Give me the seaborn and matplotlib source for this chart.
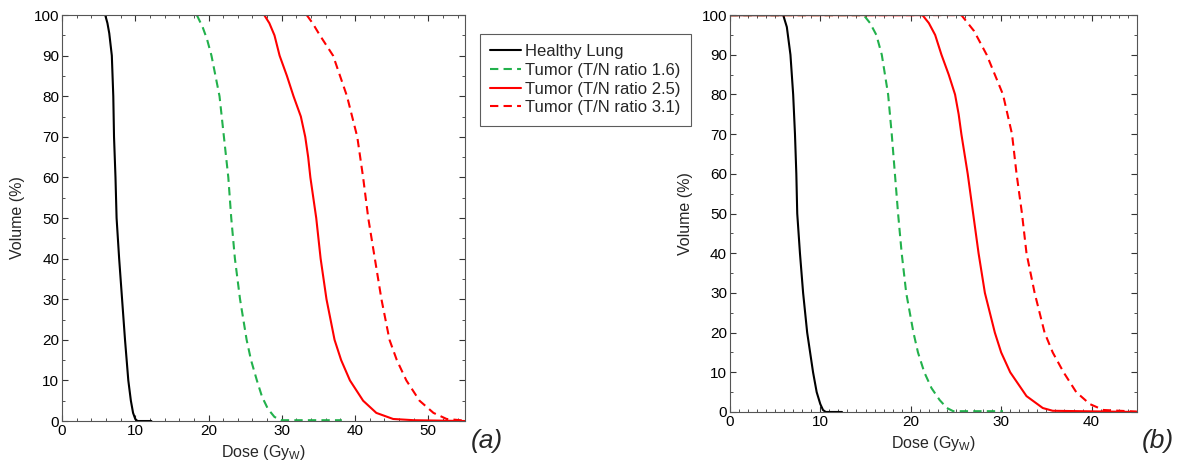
import matplotlib
matplotlib.use("Agg")
import matplotlib.pyplot as plt
from matplotlib.ticker import MultipleLocator
import pandas as pd
import seaborn as sns

# panel (a)
lung_a_x = [5.9, 6.2, 6.45, 6.8, 7.0, 7.1, 7.3, 7.45, 7.8, 8.2, 8.6, 9.05, 9.4, 9.7, 10.0, 10.3, 12.2]
lung_a_y = [100, 98, 95.5, 90, 80, 70, 60, 50, 40, 30, 20, 10, 5, 2, 0.5, 0, 0]
t16_a_x = [18.4, 19.2, 19.8, 20.4, 21.5, 22.1, 22.7, 23.1, 23.6, 24.3, 25.2, 25.8, 26.6, 27.3, 28.1, 29.0, 30.0, 38.2]
t16_a_y = [100, 97, 94, 90, 80, 70, 60, 50, 40, 30, 20, 15, 10, 6, 3, 1, 0.2, 0.2]
t25_a_x = [27.6, 28.3, 29.0, 29.7, 30.7, 31.6, 32.6, 33.2, 33.6, 33.9, 34.3, 34.7, 35.3, 36.1, 37.2, 38.1, 39.3,
           41.1, 42.9, 45.2, 48.0, 55.0]
t25_a_y = [100, 98, 95, 90, 85, 80, 75, 70, 65, 60, 55, 50, 40, 30, 20, 15, 10, 5, 2, 0.5, 0.2, 0]
t31_a_x = [33.4, 34.2, 35.2, 37.0, 38.9, 40.3, 41.1, 41.8, 42.7, 43.6, 44.7, 45.7, 47.0, 48.8, 50.7, 52.5, 55.0]
t31_a_y = [100, 98, 95, 90, 80, 70, 60, 50, 40, 30, 20, 15, 10, 5, 2, 0.5, 0.1]

# panel (b)
lung_b_x = [0, 5.9, 6.3, 6.7, 7.0, 7.2, 7.35, 7.45, 7.75, 8.1, 8.55, 9.2, 9.6, 10.0, 10.3, 10.6, 12.4]
lung_b_y = [100, 100, 97, 90, 80, 70, 60, 50, 40, 30, 20, 10, 5, 2, 0.5, 0, 0]
t16_b_x = [0, 14.8, 15.5, 16.2, 16.8, 17.5, 17.9, 18.25, 18.6, 19.0, 19.5, 20.3, 20.8, 21.5, 22.3, 23.2, 24.0,
           24.7, 30.2]
t16_b_y = [100, 100, 98, 95, 90, 80, 70, 60, 50, 40, 30, 20, 15, 10, 6, 3, 1, 0.2, 0.2]
t25_b_x = [0, 21.3, 22.0, 22.7, 23.4, 24.2, 24.9, 25.3, 25.6, 26.3, 26.9, 27.5, 28.2, 29.3, 30.0, 31.0, 32.8,
           34.6, 35.7, 45.0]
t25_b_y = [100, 100, 98, 95, 90, 85, 80, 75, 70, 60, 50, 40, 30, 20, 15, 10, 4, 1, 0.3, 0]
t31_b_x = [0, 25.6, 26.3, 27.0, 28.4, 30.2, 31.2, 31.7, 32.3, 32.8, 33.7, 34.8, 35.7, 36.9, 38.3, 39.8, 41.3, 45.0]
t31_b_y = [100, 100, 98, 96, 90, 80, 70, 60, 50, 40, 30, 20, 15, 10, 5, 2, 0.5, 0.1]

labels = ["Healthy Lung", "Tumor (T/N ratio 1.6)", "Tumor (T/N ratio 2.5)", "Tumor (T/N ratio 3.1)"]
colors = ["black", "#22b14c", "#ff0000", "#ff0000"]
styles = ["-", (0, (4, 2.5)), "-", (0, (4, 2.5))]

sns.set_style("white")
plt.rcParams['font.family'] = ['Liberation Sans', 'DejaVu Sans']
plt.rcParams['mathtext.default'] = 'regular'

fig = plt.figure(figsize=(11.81, 4.68), dpi=100)
ax1 = fig.add_axes([0.0525, 0.1004, 0.3412, 0.8675])
ax2 = fig.add_axes([0.618, 0.1197, 0.3446, 0.848])

panels = [
    (ax1, [(lung_a_x, lung_a_y), (t16_a_x, t16_a_y), (t25_a_x, t25_a_y), (t31_a_x, t31_a_y)], 55, 2),
    (ax2, [(lung_b_x, lung_b_y), (t16_b_x, t16_b_y), (t25_b_x, t25_b_y), (t31_b_x, t31_b_y)], 45, 1),
]

for ax, curves, xmax, xminor in panels:
    for (xs, ys), lab, col, ls in zip(curves, labels, colors, styles):
        df = pd.DataFrame({"dose": xs, "volume": ys})
        sns.lineplot(x="dose", y="volume", data=df, ax=ax, color=col, linestyle=ls,
                     linewidth=1.5, label=lab, estimator=None, sort=False, legend=False)
    ax.set_xlim(0, xmax)
    ax.set_ylim(0, 100)
    ax.xaxis.set_major_locator(MultipleLocator(10))
    ax.xaxis.set_minor_locator(MultipleLocator(xminor))
    ax.yaxis.set_major_locator(MultipleLocator(10))
    ax.yaxis.set_minor_locator(MultipleLocator(5))
    ax.tick_params(which='both', direction='in', top=True, right=True, bottom=True, left=True,
                   colors='#333333', labelcolor='black', labelsize=11, pad=2)
    ax.tick_params(which='major', length=4, width=0.8)
    ax.tick_params(which='minor', length=2, width=0.6)
    for s in ax.spines.values():
        s.set_color('#555555')
        s.set_linewidth(0.8)
    ax.set_xlabel('Dose (Gy$_{W}$)', fontsize=11.5, labelpad=4)
    ax.set_ylabel('Volume (%)', fontsize=11.5, labelpad=6)

handles, labs = ax1.get_legend_handles_labels()
leg = fig.legend(handles, labs, loc='upper left', bbox_to_anchor=(480 / 1181, 1 - 34 / 468),
                 borderaxespad=0, fontsize=12, frameon=True, fancybox=False, handlelength=1.85,
                 borderpad=0.62, labelspacing=0.22, handletextpad=0.25)
leg.get_frame().set_edgecolor('#333333')
leg.get_frame().set_linewidth(0.8)

fig.text(0.412, 0.058, '(a)', fontsize=19, style='italic', ha='center', va='center')
fig.text(0.9805, 0.058, '(b)', fontsize=19, style='italic', ha='center', va='center')

fig.savefig("out.png", dpi=100)
